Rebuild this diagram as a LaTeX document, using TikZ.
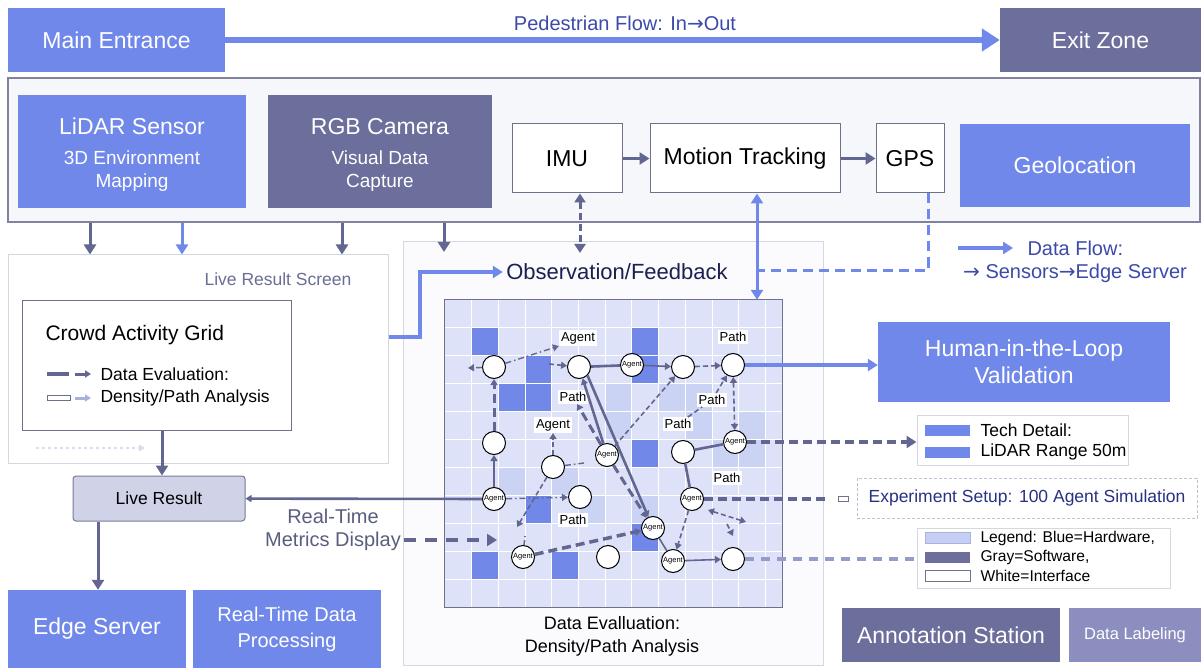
\documentclass[tikz,border=0pt]{standalone}
\usepackage{fontspec}
\setmainfont{Liberation Sans}
\newfontfamily\arrowfont{DejaVu Sans}
\usetikzlibrary{arrows.meta}

\newcommand{\fsz}[2]{\fontsize{#1}{#2}\selectfont}
\newcommand{\rarr}{{\arrowfont →}}

\definecolor{hwblue}{RGB}{112,136,234}
\definecolor{swgray}{RGB}{108,110,155}
\definecolor{lablgray}{RGB}{139,142,190}
\definecolor{linegray}{RGB}{98,102,145}
\definecolor{framegray}{RGB}{128,130,160}
\definecolor{framefill}{RGB}{246,247,251}
\definecolor{panelline}{RGB}{212,214,226}
\definecolor{panelfill}{RGB}{251,251,253}
\definecolor{boxline}{RGB}{110,113,140}
\definecolor{gridbg}{RGB}{221,226,248}
\definecolor{cellmid}{RGB}{203,211,245}
\definecolor{cellblue}{RGB}{113,136,232}
\definecolor{navy}{RGB}{26,32,80}
\definecolor{flowtext}{RGB}{60,74,170}
\definecolor{screentext}{RGB}{105,110,150}
\definecolor{metricstext}{RGB}{90,94,125}
\definecolor{exptext}{RGB}{40,50,130}
\definecolor{livefill}{RGB}{208,210,232}
\definecolor{liveline}{RGB}{120,123,150}
\definecolor{lightarrow}{RGB}{170,178,220}
\definecolor{faintline}{RGB}{220,223,235}
\definecolor{dashgray}{RGB}{190,193,205}
\definecolor{legblue}{RGB}{197,207,246}
\definecolor{fadeline}{RGB}{150,156,200}

\tikzset{
  hwbox/.style={fill=hwblue, text=white, inner sep=0pt, align=center, font=\fsz{23}{27}},
  swbox/.style={fill=swgray, text=white, inner sep=0pt, align=center, font=\fsz{23}{27}},
  ifbox/.style={fill=white, draw=boxline, line width=1pt, inner sep=0pt, font=\fsz{23}{27}},
  boxtext/.style={text=white, align=center, inner sep=0pt, font=\fsz{23}{27}},
  panel/.style={draw=panelline, fill=panelfill, line width=1pt, inner sep=0pt},
  headed/.style={-{Triangle[length=6pt,width=7pt]}},
  bighead/.style={-{Triangle[length=10pt,width=12pt]}},
  flow/.style={draw=linegray, line width=3pt, bighead},
  bflow/.style={draw=hwblue, line width=3pt, bighead},
  spot/.style={circle, draw=black, line width=1pt, fill=white, minimum size=23pt, inner sep=0pt},
  agent/.style={spot, font=\fsz{7.5}{8}},
  tag/.style={fill=white, inner sep=2pt, font=\fsz{13}{15}},
  gline/.style={draw=linegray, line width=2.6pt},
  gthin/.style={draw=linegray, line width=1.6pt},
  gdash/.style={draw=linegray, line width=3pt, dash pattern=on 9pt off 5pt},
  gdashthin/.style={draw=linegray, line width=1.6pt, dash pattern=on 5pt off 3pt},
  gdashdot/.style={draw=linegray, line width=1.4pt, dash pattern=on 6pt off 3pt on 1.5pt off 3pt},
  swatch/.style={minimum width=45pt, minimum height=11pt, inner sep=0pt},
  legtext/.style={anchor=west, font=\fsz{15.6}{19}},
}

\begin{document}
\begin{tikzpicture}[x=1pt,y=-1pt]
\useasboundingbox (0,0) rectangle (1201,668);
\fill[white] (0,0) rectangle (1201,668);

% entrance and exit
\node[hwbox, minimum width=217pt, minimum height=64pt] (entrance) at (116.5,40) {Main Entrance};
\node[swbox, minimum width=201pt, minimum height=64pt] (exitzone) at (1100.5,40) {Exit Zone};
\draw[draw=hwblue, line width=6pt, -{Triangle[length=18pt,width=22pt]}] (entrance) -- (exitzone);
\node[text=flowtext, font=\fsz{20}{24}] (pedflow) at (625,23) {Pedestrian Flow: In\rarr Out};

% sensor row
\node[draw=framegray, fill=framefill, line width=1.2pt, minimum width=1192pt, minimum height=144pt, inner sep=0pt] (sensorframe) at (604,150) {};
\node[hwbox, minimum width=228pt, minimum height=113pt] (lidar) at (132,151.5) {};
\node[boxtext] (lidartxt) at (132,155) {LiDAR Sensor\\[3pt]\fsz{19}{23}3D Environment\\[-4pt]\fsz{19}{23}Mapping};
\node[swbox, minimum width=224pt, minimum height=113pt] (camera) at (380,151.5) {};
\node[boxtext] (cameratxt) at (380,155) {RGB Camera\\[3pt]\fsz{19}{23}Visual Data\\[-4pt]\fsz{19}{23}Capture};
\node[ifbox, minimum width=110pt, minimum height=69pt] (imu) at (567,158.5) {IMU};
\node[ifbox, minimum width=190pt, minimum height=69pt] (motion) at (745,158.5) {Motion Tracking};
\node[ifbox, minimum width=68pt, minimum height=69pt] (gps) at (910,158.5) {GPS};
\node[hwbox, minimum width=230pt, minimum height=83pt] (geoloc) at (1075,165.5) {Geolocation};
\draw[flow] (imu) -- (motion);
\draw[flow] (motion) -- (gps);

% live result screen
\node[panel, fill=white, minimum width=380pt, minimum height=208pt] (screenpanel) at (198,359) {};
\node[text=screentext, font=\fsz{17.5}{21}] (screenlbl) at (278,279) {Live Result Screen};
\node[draw=boxline, fill=white, line width=1pt, minimum width=269pt, minimum height=130pt, inner sep=0pt] (actgrid) at (156.5,365) {};
\node[anchor=west, font=\fsz{21}{25}] (gridtitle) at (42,335) {Crowd Activity Grid};
\node[anchor=west, font=\fsz{17.5}{21}] (legA) at (97,374) {Data Evaluation:};
\node[anchor=west, font=\fsz{17.5}{21}] (legB) at (97,398) {Density/Path Analysis};
\draw[linegray, line width=4pt] (47,374) -- (69,374);
\draw[linegray, line width=3pt, headed] (75,374) -- (91,374);
\draw[boxline, fill=white, line width=0.8pt] (47,395.5) rectangle (70,400.5);
\draw[lightarrow, line width=3pt, headed] (75,398) -- (91,398);
\draw[faintline, line width=1.5pt, dashed, headed] (36,448) -- (145,448);

\node[fill=livefill, draw=liveline, line width=1pt, rounded corners=3pt, minimum width=172pt, minimum height=45pt, font=\fsz{17.5}{21}] (liveres) at (159,498.5) {Live Result};
\coordinate (d10) at (162,0);
\draw[flow] (actgrid.south -| d10) -- (liveres.north -| d10);

\node[hwbox, minimum width=178pt, minimum height=78pt] (edgeserv) at (97,629) {Edge Server};
\node[hwbox, minimum width=188pt, minimum height=78pt, font=\fsz{20}{26}] (rtproc) at (287,629) {Real-Time Data\\Processing};
\coordinate (d9) at (98,0);
\draw[flow] (liveres.south -| d9) -- (edgeserv.north -| d9);
\node[text=metricstext, align=center, font=\fsz{20}{23}] (rtmetrics) at (333,530) {Real-Time\\Metrics Display};

% observation panel
\node[panel, minimum width=420pt, minimum height=423pt] (obspanel) at (613,453.5) {};
\node[text=navy, font=\fsz{22}{26}] (obstext) at (617,272) {Observation/Feedback};
\node[align=center, font=\fsz{18}{23}] (evaltext) at (612,636) {Data Evalluation:\\Density/Path Analysis};

% arrows out of the sensor row
\coordinate (d1) at (90,0);
\coordinate (d2) at (182,0);
\coordinate (d3) at (342,0);
\coordinate (d4) at (444,252);
\coordinate (d5) at (580,253);
\coordinate (d6) at (757,0);
\coordinate (d7) at (928,270);
\coordinate (d8) at (420,337);
\draw[flow] (sensorframe.south -| d1) -- (screenpanel.north -| d1);
\draw[bflow] (sensorframe.south -| d2) -- (screenpanel.north -| d2);
\draw[flow] (sensorframe.south -| d3) -- (screenpanel.north -| d3);
\draw[flow] (sensorframe.south -| d4) -- (d4);
\draw[linegray, line width=3pt, dash pattern=on 7pt off 4pt, {Triangle[length=9pt,width=11pt]}-{Triangle[length=9pt,width=11pt]}] (imu.south -| d5) -- (d5);
\draw[bflow, line width=3.5pt] ([yshift=22pt]screenpanel.east) -- (d8) |- (obstext.west);

% density grid
\node[fill=gridbg, minimum width=337pt, minimum height=307pt, inner sep=0pt] (densgrid) at (613.5,453.5) {};
\foreach \c/\r in {6/4,10/5,11/4,11/5,5/7,7/7,8/3,9/3,2/6,4/6,9/4,6/3}
  \fill[cellmid] ({445+\c*26.7},{300+\r*27.9}) rectangle ++(26.7,27.9);
\foreach \c/\r in {1/1,3/2,2/3,3/3,7/1,7/2,7/5,3/7,7/8,1/9,4/9}
  \fill[cellblue] ({445+\c*26.7},{300+\r*27.9}) rectangle ++(26.7,27.9);
\foreach \i in {1,...,12}
  \draw[white, line width=1pt] ({445+\i*26.7},300) -- ({445+\i*26.7},607);
\foreach \i in {1,...,10}
  \draw[white, line width=1pt] (445,{300+\i*27.9}) -- (782,{300+\i*27.9});
\draw[boxline, line width=1.2pt] (densgrid.north west) rectangle (densgrid.south east);

\draw[draw=hwblue, line width=3pt, {Triangle[length=10pt,width=12pt]}-{Triangle[length=10pt,width=12pt]}] (motion.south -| d6) -- (densgrid.north -| d6);
\draw[draw=hwblue, line width=3pt, dash pattern=on 10pt off 6pt] (gps.south -| d7) -- (d7) -- (d7 -| d6);

% agents and spots
\node[spot] (n1) at (494,367) {};
\node[spot] (n2) at (579,367) {};
\node[agent] (n3) at (632,365) {Agent};
\node[spot] (n4) at (683,367) {};
\node[spot] (n5) at (733,365) {};
\node[spot] (n6) at (494,443) {};
\node[spot] (n7) at (553,467) {};
\node[agent] (n8) at (607,455) {Agent};
\node[spot] (n9) at (683,452) {};
\node[agent] (n10) at (735,442) {Agent};
\node[agent] (n11) at (494,499) {Agent};
\node[spot] (n12) at (580,497) {};
\node[agent] (n13) at (692,499) {Agent};
\node[agent] (n14) at (653,528) {Agent};
\node[agent] (n15) at (523,557) {Agent};
\node[spot] (n16) at (608,557) {};
\node[agent] (n17) at (673,561) {Agent};
\node[spot] (n18) at (733,559) {};

\node[tag] (t1) at (578,338) {Agent};
\node[tag] (t2) at (733,337) {Path};
\node[tag] (t3) at (573,397) {Path};
\node[tag] (t4) at (712,400) {Path};
\node[tag] (t5) at (553,425) {Agent};
\node[tag] (t6) at (678,424) {Path};
\node[tag] (t7) at (727,478) {Path};
\node[tag] (t8) at (573,520) {Path};

% free ends
\coordinate (f1) at (468,368);
\coordinate (f2) at (549,364);
\coordinate (f3) at (584,463);
\coordinate (f4) at (517,527);
\coordinate (f5) at (525,536);
\coordinate (f6) at (708,510);
\coordinate (f7) at (746,522);
\coordinate (f8) at (727,524);
\coordinate (f9) at (733,536);
\coordinate (f10) at (497,540);
\coordinate (f11) at (829,499);

% grid links
\draw[gdashdot, headed] (n1) -- (f1);
\draw[gdashdot, headed] (n1) -- (t1.south west);
\draw[gdashthin, headed] (f2) -- (n2);
\draw[gline] (n2) -- (n3);
\draw[gthin, headed] (n3) -- (n4);
\draw[gdashthin, headed] (n4) -- (n5);
\draw[gdash, headed] (n6) -- (n1);
\draw[gthin, headed] (n11) -- (n6);
\draw[gdashdot, headed] (n11) -- (n12);
\draw[gdashthin, headed] (n7) -- (t5);
\draw[gdashdot] (n7) -- (f3);
\draw[gdashthin, headed] (n7) -- (f4);
\draw[gdashthin] (n15) -- (f5);
\draw[gline, headed] (n2.south east) -- (n14);
\draw[gline, headed] (n8) -- (n2);
\draw[gdash, headed] (n8) -- (t3);
\draw[gdash, headed] (n8) -- (n14);
\draw[gdashthin, headed] (n8) -- (n4);
\draw[gdashthin] (t6) -- (t4);
\draw[gdashthin, headed] (t4) -- (n5);
\draw[gdashthin, {Triangle[length=6pt,width=7pt]}-{Triangle[length=6pt,width=7pt]}] (n5) -- (n10);
\draw[gline] (n9) -- (n10);
\draw[gline] (n9) -- (n13);
\draw[gdashthin, headed] (n13) -- (n17);
\draw[gdashthin, {Triangle[length=6pt,width=7pt]}-{Triangle[length=6pt,width=7pt]}] (f6) -- (f7);
\draw[gdashthin, headed] (f8) -- (f9);
\draw[gthin] (n14) -- (n17);
\draw[gthin, headed] (n17) -- (n18);
\draw[gdash, line width=3.5pt, headed] (n15) -- (n14);

% right column
\node[hwbox, minimum width=292pt, minimum height=80pt] (hitl) at (1024,362) {Human-in-the-Loop\\Validation};
\draw[draw=hwblue, line width=4pt, bighead] (n5) -- (n5 -| hitl.west);

\node[draw=panelline, fill=white, line width=1pt, minimum width=211pt, minimum height=50pt, inner sep=0pt] (techbox) at (1022.5,440) {};
\node[swatch, fill=hwblue] (techsw1) at (947.5,430) {};
\node[swatch, fill=hwblue] (techsw2) at (947.5,452) {};
\node[anchor=west, font=\fsz{17.5}{21}] (techtxt1) at (977,430) {Tech Detail:};
\node[anchor=west, font=\fsz{17.5}{21}] (techtxt2) at (977,452) {LiDAR Range 50m};
\draw[gdash, line width=3.5pt, bighead] (n10) -- (n10 -| techbox.west);

\node[draw=dashgray, dash pattern=on 3pt off 2pt, line width=1pt, minimum width=340pt, minimum height=40pt, inner sep=0pt, text=exptext, font=\fsz{17.5}{21}] (expbox) at (1027,498) {Experiment Setup: 100 Agent Simulation};
\node[draw=boxline, fill=white, line width=0.6pt, minimum width=10pt, minimum height=5pt, inner sep=0pt] (expmark) at (843,498.5) {};
\draw[gdash, line width=3.5pt] (n13) -- (f11);

\node[draw=panelline, fill=white, line width=1pt, minimum width=253pt, minimum height=60pt, inner sep=0pt] (legendbox) at (1043.5,558) {};
\node[swatch, fill=legblue, draw=lightarrow, line width=0.5pt] (legsw1) at (947.5,538) {};
\node[swatch, fill=swgray] (legsw2) at (947.5,557) {};
\node[swatch, fill=white, draw=boxline, line width=0.5pt] (legsw3) at (947.5,576) {};
\node[legtext] (legt1) at (977,538) {Legend: Blue=Hardware,};
\node[legtext] (legt2) at (977,557) {Gray=Software,};
\node[legtext] (legt3) at (977,576) {White=Interface};
\draw[fadeline, line width=4pt, dash pattern=on 9pt off 7pt] (n18) -- (n18 -| legendbox.west);

\coordinate (dfa) at (958,248);
\coordinate (dfb) at (1013,248);
\draw[bflow, line width=3.5pt] (dfa) -- (dfb);
\node[anchor=west, text=flowtext, font=\fsz{20}{24}] (dftext) at (1024,248) {Data Flow:};
\node[text=flowtext, font=\fsz{20}{24}] (dftext2) at (1075,273) {\rarr{} Sensors\rarr Edge Server};

\node[swbox, minimum width=218pt, minimum height=54pt] (annot) at (951,635) {Annotation Station};
\node[fill=lablgray, text=white, minimum width=132pt, minimum height=54pt, inner sep=0pt, font=\fsz{16.5}{20}] (labeling) at (1135,635) {Data Labeling};

% metrics and live result links
\draw[gline, headed] (n11) -- (liveres);
\draw[linegray, line width=4pt, dash pattern=on 12pt off 9pt, bighead] (rtmetrics.east |- f10) -- (f10);
\end{tikzpicture}
\end{document}
